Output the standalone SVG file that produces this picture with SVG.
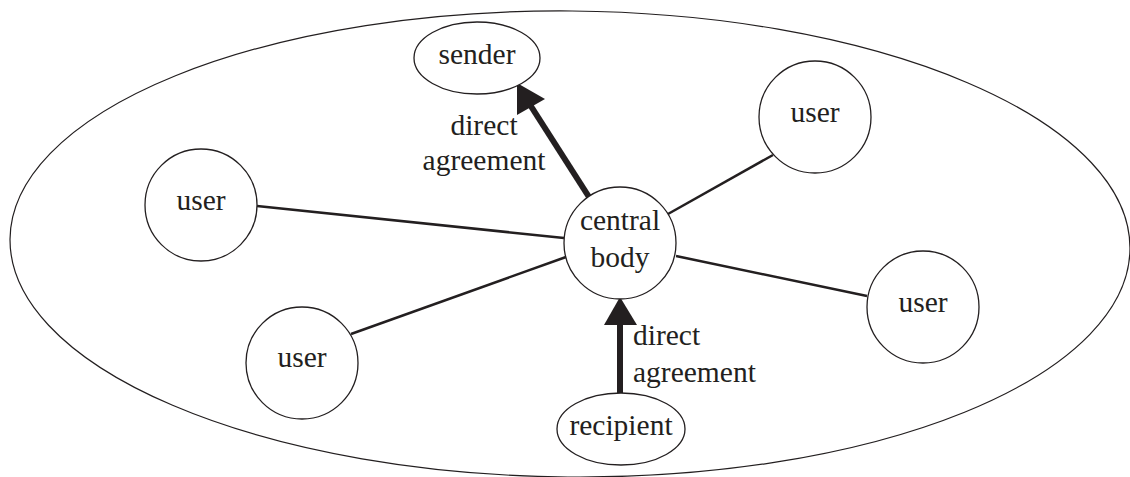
<svg xmlns="http://www.w3.org/2000/svg" width="1130" height="477" viewBox="0 0 1130 477">
  <style>
    .shape { fill: #ffffff; stroke: #231f20; stroke-width: 1.3; }
    .outer { fill: none; stroke: #231f20; stroke-width: 1.2; }
    .link { stroke: #231f20; stroke-width: 2.5; fill: none; }
    .agree { stroke: #231f20; stroke-width: 6; fill: none; }
    .head { fill: #231f20; stroke: none; }
    text { font-family: "Liberation Serif", "Times New Roman", serif; font-size: 29.5px; fill: #231f20; }
    .c { text-anchor: middle; }
  </style>

  <!-- enclosing community boundary -->
  <ellipse class="outer" cx="570" cy="244" rx="560" ry="233" transform="rotate(0.5 570 244)"/>

  <g id="connectors">
    <line class="link" x1="257" y1="206" x2="564" y2="238"/>
    <line class="link" x1="351" y1="334" x2="566" y2="257"/>
    <line class="link" x1="773" y1="155" x2="668" y2="214"/>
    <line class="link" x1="676" y1="256" x2="867" y2="296"/>
    <!-- direct agreement: central body to sender -->
    <line class="agree" x1="589" y1="197" x2="527" y2="100"/>
    <polygon class="head" points="517,83 517,115 545,99"/>
    <!-- direct agreement: recipient to central body -->
    <line class="agree" x1="620" y1="393" x2="620" y2="320"/>
    <polygon class="head" points="620,297 604,325 637,325"/>
  </g>

  <g id="central-body">
    <circle class="shape" cx="620" cy="243" r="56"/>
    <text class="c" x="620" y="230">central</text>
    <text class="c" x="620" y="267">body</text>
  </g>

  <g id="sender">
    <ellipse class="shape" cx="477" cy="58" rx="63" ry="36"/>
    <text class="c" x="477" y="64">sender</text>
  </g>

  <g id="recipient">
    <ellipse class="shape" cx="621" cy="429" rx="64" ry="36"/>
    <text class="c" x="621" y="435">recipient</text>
  </g>

  <g id="user-left">
    <circle class="shape" cx="201" cy="205" r="56"/>
    <text class="c" x="201" y="210">user</text>
  </g>

  <g id="user-lower-left">
    <circle class="shape" cx="302" cy="363" r="56"/>
    <text class="c" x="302" y="367">user</text>
  </g>

  <g id="user-upper-right">
    <circle class="shape" cx="815" cy="117" r="56"/>
    <text class="c" x="815" y="122">user</text>
  </g>

  <g id="user-right">
    <circle class="shape" cx="923" cy="307" r="56"/>
    <text class="c" x="923" y="312">user</text>
  </g>

  <g id="labels">
    <text class="c" x="484" y="135">direct</text>
    <text class="c" x="484" y="170">agreement</text>
    <text x="633" y="345">direct</text>
    <text x="633" y="382">agreement</text>
  </g>
</svg>
